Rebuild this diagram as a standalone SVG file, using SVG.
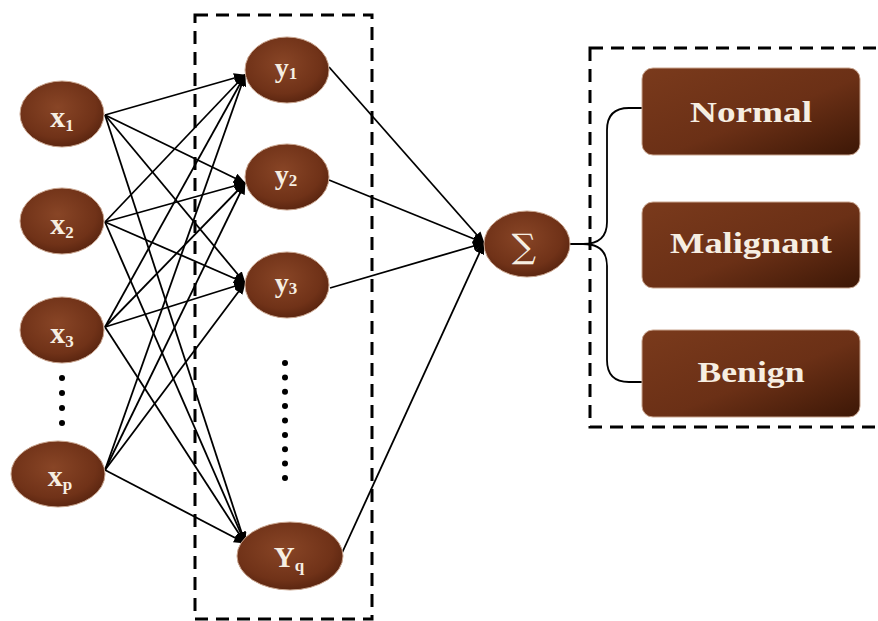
<svg xmlns="http://www.w3.org/2000/svg" width="878" height="621" viewBox="0 0 878 621">
<defs>
<radialGradient id="ng" cx="0.45" cy="0.4" r="0.65">
<stop offset="0" stop-color="#884526"/>
<stop offset="0.7" stop-color="#703218"/>
<stop offset="1" stop-color="#55220e"/>
</radialGradient>
<linearGradient id="bg" x1="0" y1="0" x2="1" y2="1">
<stop offset="0" stop-color="#7a3a1c"/>
<stop offset="0.55" stop-color="#6b3016"/>
<stop offset="1" stop-color="#3c1706"/>
</linearGradient>
<marker id="ah" viewBox="0 0 12 10" refX="11" refY="5" markerWidth="12" markerHeight="10" markerUnits="userSpaceOnUse" orient="auto">
<path d="M0,0 L12,5 L0,10 Z" fill="#000"/>
</marker>
</defs>
<style>
.node{fill:url(#ng);stroke:#c9a58f;stroke-width:1}
.box{fill:url(#bg);stroke:#c9a58f;stroke-width:1}
.lbl{font-family:"Liberation Serif",serif;font-weight:bold;fill:#f6eee2;text-anchor:middle}
.sub{font-size:17px}
.edge{stroke:#000;stroke-width:1.8;fill:none;marker-end:url(#ah)}
.plain{stroke:#000;stroke-width:1.8;fill:none}
.dash{fill:none;stroke:#000;stroke-width:3;stroke-dasharray:13 8}
.dot{fill:#000}
</style>
<rect width="878" height="621" fill="#fff"/>
<rect class="dash" x="195" y="15" width="177" height="604"/>
<rect class="dash" x="590" y="48" width="310" height="379"/>
<g id="connectors">
<line class="edge" x1="105" y1="115" x2="245" y2="75"/>
<line class="edge" x1="105" y1="115" x2="245" y2="183"/>
<line class="edge" x1="105" y1="115" x2="245" y2="283"/>
<line class="edge" x1="105" y1="115" x2="245" y2="543"/>
<line class="edge" x1="105" y1="222" x2="245" y2="75"/>
<line class="edge" x1="105" y1="222" x2="245" y2="183"/>
<line class="edge" x1="105" y1="222" x2="245" y2="283"/>
<line class="edge" x1="105" y1="222" x2="245" y2="543"/>
<line class="edge" x1="105" y1="327" x2="245" y2="75"/>
<line class="edge" x1="105" y1="327" x2="245" y2="183"/>
<line class="edge" x1="105" y1="327" x2="245" y2="283"/>
<line class="edge" x1="105" y1="327" x2="245" y2="543"/>
<line class="edge" x1="105" y1="470" x2="245" y2="75"/>
<line class="edge" x1="105" y1="470" x2="245" y2="183"/>
<line class="edge" x1="105" y1="470" x2="245" y2="283"/>
<line class="edge" x1="105" y1="470" x2="245" y2="543"/>
<line class="edge" x1="329" y1="67" x2="484" y2="243"/>
<line class="edge" x1="329" y1="180" x2="484" y2="243"/>
<line class="edge" x1="330" y1="288" x2="484" y2="243"/>
<line class="edge" x1="342" y1="553" x2="484" y2="243"/>
<path class="plain" d="M570,244 H583 Q607,244 607,222 V130 Q607,108 629,108 H643"/>
<path class="plain" d="M583,244 Q607,244 607,266 V360 Q607,382 629,382 H643"/>
</g>
<g id="x1"><ellipse class="node" cx="62" cy="114" rx="42" ry="33"/><text class="lbl" x="62" y="127" font-size="30">x<tspan class="sub" dy="4">1</tspan></text></g>
<g id="x2"><ellipse class="node" cx="62" cy="221" rx="42" ry="33"/><text class="lbl" x="62" y="234" font-size="30">x<tspan class="sub" dy="4">2</tspan></text></g>
<g id="x3"><ellipse class="node" cx="62" cy="330" rx="42" ry="33"/><text class="lbl" x="62" y="343" font-size="30">x<tspan class="sub" dy="4">3</tspan></text></g>
<g id="xdots"><circle class="dot" cx="62" cy="378" r="3"/><circle class="dot" cx="62" cy="393" r="3"/><circle class="dot" cx="62" cy="408" r="3"/><circle class="dot" cx="62" cy="423" r="3"/></g>
<g id="xp"><ellipse class="node" cx="58" cy="474" rx="47" ry="33"/><text class="lbl" x="60" y="486" font-size="30">x<tspan class="sub" dy="4">p</tspan></text></g>
<g id="y1"><ellipse class="node" cx="287" cy="70" rx="42" ry="33"/><text class="lbl" x="286" y="77" font-size="28">y<tspan class="sub" dy="2">1</tspan></text></g>
<g id="y2"><ellipse class="node" cx="287" cy="177" rx="42" ry="33"/><text class="lbl" x="286" y="184" font-size="28">y<tspan class="sub" dy="2">2</tspan></text></g>
<g id="y3"><ellipse class="node" cx="287" cy="285" rx="42" ry="33"/><text class="lbl" x="286" y="292" font-size="28">y<tspan class="sub" dy="2">3</tspan></text></g>
<g id="ydots"><circle class="dot" cx="285" cy="363" r="3"/><circle class="dot" cx="285" cy="377.4" r="3"/><circle class="dot" cx="285" cy="391.8" r="3"/><circle class="dot" cx="285" cy="406.1" r="3"/><circle class="dot" cx="285" cy="420.5" r="3"/><circle class="dot" cx="285" cy="434.9" r="3"/><circle class="dot" cx="285" cy="449.3" r="3"/><circle class="dot" cx="285" cy="463.6" r="3"/><circle class="dot" cx="285" cy="478" r="3"/></g>
<g id="yq"><ellipse class="node" cx="290" cy="556" rx="53" ry="34"/><text class="lbl" x="289" y="567" font-size="29">Y<tspan class="sub" dy="4">q</tspan></text></g>
<g id="sum"><ellipse class="node" cx="527" cy="244" rx="43" ry="33"/><text x="524" y="258" font-family="DejaVu Serif, serif" font-size="34" fill="#f6eee2" text-anchor="middle">∑</text></g>
<g id="normal"><rect class="box" x="642" y="68" width="218" height="87" rx="11"/><text class="lbl" x="751" y="122" font-size="29" textLength="122" lengthAdjust="spacingAndGlyphs">Normal</text></g>
<g id="malignant"><rect class="box" x="642" y="202" width="218" height="86" rx="11"/><text class="lbl" x="751" y="253" font-size="29" textLength="162" lengthAdjust="spacingAndGlyphs">Malignant</text></g>
<g id="benign"><rect class="box" x="642" y="330" width="218" height="87" rx="11"/><text class="lbl" x="751" y="382" font-size="29" textLength="107" lengthAdjust="spacingAndGlyphs">Benign</text></g>
</svg>
